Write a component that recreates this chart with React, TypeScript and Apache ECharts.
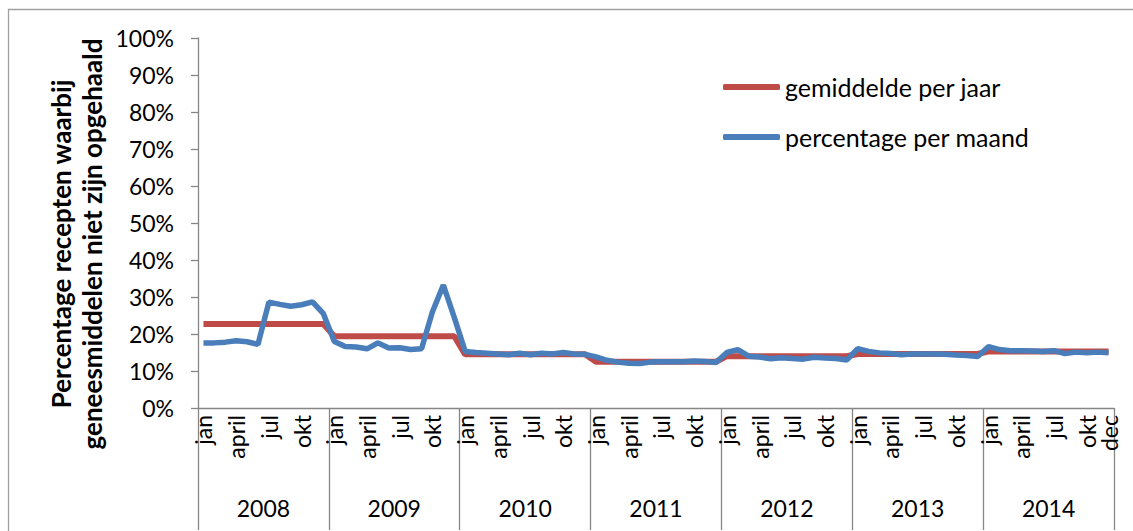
import React, { useEffect, useRef } from "react";
import * as echarts from "echarts";

const monthNames = ["jan", "feb", "maart", "april", "mei", "juni", "jul", "aug", "sep", "okt", "nov", "dec"];
const years = ["2008", "2009", "2010", "2011", "2012", "2013", "2014"];

// percentage per maand, one array per year
const perMonth2008 = [17.6, 17.6, 17.8, 18.2, 17.9, 17.2, 28.6, 28.0, 27.5, 27.9, 28.7, 25.5];
const perMonth2009 = [18.0, 16.6, 16.5, 16.0, 17.6, 16.2, 16.3, 15.8, 16.0, 26.0, 33.2, 24.5];
const perMonth2010 = [15.3, 15.0, 14.8, 14.6, 14.4, 14.8, 14.4, 14.8, 14.6, 15.0, 14.6, 14.5];
const perMonth2011 = [13.8, 12.9, 12.4, 12.1, 12.0, 12.4, 12.5, 12.5, 12.5, 12.7, 12.6, 12.3];
const perMonth2012 = [15.0, 15.8, 14.0, 13.8, 13.3, 13.6, 13.4, 13.2, 13.7, 13.5, 13.4, 13.0];
const perMonth2013 = [16.0, 15.3, 14.9, 14.7, 14.4, 14.6, 14.6, 14.6, 14.5, 14.3, 14.2, 13.9];
const perMonth2014 = [16.6, 15.8, 15.5, 15.5, 15.4, 15.3, 15.5, 14.7, 15.1, 14.9, 15.1, 14.9];

// gemiddelde per jaar
const yearAverages = [22.7, 19.4, 14.5, 12.5, 14.0, 14.6, 15.3];

const yTicks = [0, 10, 20, 30, 40, 50, 60, 70, 80, 90, 100];

const FONT = "Lato";
const AXIS_GRAY = "#868686";
const RED = "#BE4B48";
const BLUE = "#4A7EBB";

export default function App() {
  const ref = useRef<HTMLDivElement>(null);

  useEffect(() => {
    if (!ref.current) return;
    const chart = echarts.init(ref.current, undefined, { renderer: "svg" });

    const monthly = [perMonth2008, perMonth2009, perMonth2010, perMonth2011, perMonth2012, perMonth2013, perMonth2014];
    const categories: string[] = [];
    const blue: number[] = [];
    const red: number[] = [];
    monthly.forEach((arr, yi) => {
      arr.forEach((v, mi) => {
        categories.push(monthNames[mi]);
        blue.push(v);
        red.push(yearAverages[yi]);
      });
    });
    const last = categories.length - 1;

    const monthLabel = {
      rotate: 90,
      margin: 7,
      fontSize: 23,
      color: "#000",
      fontFamily: FONT,
      hideOverlap: false,
    };

    chart.setOption({
      animation: false,
      textStyle: { fontFamily: FONT },
      grid: { left: 198, right: 19, top: 38, bottom: 123, containLabel: false },
      legend: {
        orient: "vertical",
        left: 718,
        top: 68,
        itemWidth: 57,
        itemHeight: 6,
        itemGap: 22,
        icon: "roundRect",
        textStyle: { fontFamily: FONT, fontSize: 25, color: "#000", lineHeight: 28 },
        data: ["gemiddelde per jaar", "percentage per maand"],
      },
      xAxis: [
        {
          type: "category",
          data: categories,
          boundaryGap: true,
          axisLine: { lineStyle: { color: AXIS_GRAY, width: 1.3 } },
          axisTick: { show: false },
          axisLabel: {
            ...monthLabel,
            interval: (i: number) => i % 3 === 0 && i !== last,
          },
        },
        {
          type: "category",
          data: years,
          position: "bottom",
          boundaryGap: true,
          axisLine: { show: false },
          axisTick: { show: true, length: 122, lineStyle: { color: AXIS_GRAY, width: 1.3 } },
          axisLabel: { margin: 88, fontSize: 23, color: "#000", fontFamily: FONT },
        },
        {
          type: "category",
          data: categories,
          position: "bottom",
          boundaryGap: true,
          axisLine: { show: false },
          axisTick: { show: false },
          axisLabel: {
            ...monthLabel,
            interval: (i: number) => i === last,
            showMaxLabel: true,
          },
        },
      ],
      yAxis: {
        type: "value",
        min: yTicks[0],
        max: yTicks[yTicks.length - 1],
        interval: 10,
        axisLine: { show: true, lineStyle: { color: AXIS_GRAY, width: 1.3 } },
        axisTick: { show: true, length: 7, lineStyle: { color: AXIS_GRAY, width: 1.3 } },
        splitLine: { show: false },
        axisLabel: {
          formatter: (v: number) => `${v}%`,
          fontSize: 23,
          color: "#000",
          margin: 24,
          fontFamily: FONT,
        },
      },
      graphic: [
        {
          type: "rect",
          silent: true,
          shape: { x: 8.5, y: 9.5, width: 1300, height: 700 },
          style: { fill: "none", stroke: "#a0a0a0", lineWidth: 1.3 },
        },
        {
          type: "text",
          x: 76,
          y: 244,
          rotation: Math.PI / 2,
          style: {
            text: "Percentage recepten waarbij\ngeneesmiddelen niet zijn opgehaald",
            font: `bold 26px ${FONT}`,
            fill: "#000",
            align: "center",
            verticalAlign: "middle",
            lineHeight: 31,
          },
        },
      ],
      series: [
        {
          name: "gemiddelde per jaar",
          type: "line",
          data: red,
          symbol: "none",
          lineStyle: { color: RED, width: 6 },
          itemStyle: { color: RED },
          z: 2,
        },
        {
          name: "percentage per maand",
          type: "line",
          data: blue,
          symbol: "none",
          lineStyle: { color: BLUE, width: 5.5 },
          itemStyle: { color: BLUE },
          z: 3,
        },
      ],
    });

    return () => chart.dispose();
  }, []);

  return (
    <div
      ref={ref}
      style={{ position: "fixed", left: 0, top: 0, width: 1133, height: 531, background: "#fff" }}
    />
  );
}
